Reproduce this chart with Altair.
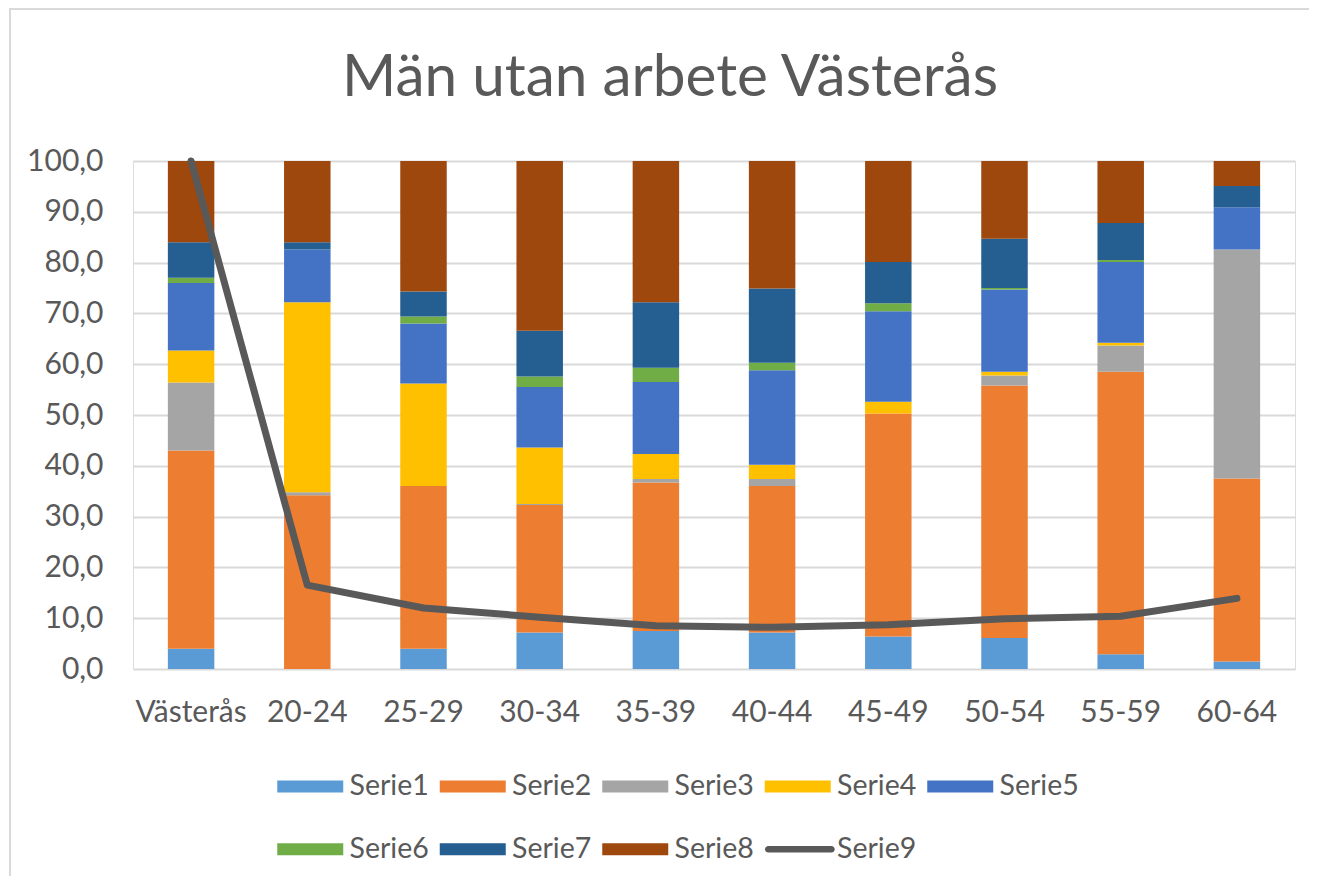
import altair as alt
import pandas as pd

categories = ["Västerås", "20-24", "25-29", "30-34", "35-39", "40-44", "45-49", "50-54", "55-59", "60-64"]
serie1 = [4.0, 0.0, 4.0, 7.2, 7.5, 7.2, 6.4, 6.1, 2.9, 1.5]
serie2 = [39.0, 34.2, 32.0, 25.1, 29.2, 28.8, 43.9, 49.7, 55.6, 36.0]
serie3 = [13.4, 0.6, 0.0, 0.2, 0.7, 1.4, 0.0, 2.0, 5.2, 45.1]
serie4 = [6.3, 37.4, 20.2, 11.1, 4.9, 2.8, 2.3, 0.7, 0.5, 0.0]
serie5 = [13.3, 10.4, 11.8, 11.9, 14.2, 18.6, 17.8, 16.2, 15.9, 8.3]
serie6 = [1.0, 0.0, 1.4, 2.1, 2.8, 1.5, 1.6, 0.3, 0.4, 0.0]
serie7 = [7.0, 1.4, 4.9, 9.0, 12.9, 14.6, 8.1, 9.7, 7.3, 4.2]
serie8 = [16.0, 16.0, 25.7, 33.4, 27.8, 25.1, 19.9, 15.3, 12.2, 4.9]
serie9 = [100.0, 16.5, 12.0, 10.2, 8.5, 8.2, 8.7, 9.9, 10.4, 13.9]

series_names = ["Serie1", "Serie2", "Serie3", "Serie4", "Serie5", "Serie6", "Serie7", "Serie8", "Serie9"]
colors = ["#5B9BD5", "#ED7D31", "#A5A5A5", "#FFC000", "#4472C4", "#70AD47", "#255E91", "#9E480E", "#595959"]

bar_series = [serie1, serie2, serie3, serie4, serie5, serie6, serie7, serie8]
rows = []
for i, vals in enumerate(bar_series):
    for j, cat in enumerate(categories):
        rows.append({"kat": cat, "serie": series_names[i], "ordning": i, "varde": vals[j]})
bars_df = pd.DataFrame(rows)
line_df = pd.DataFrame({"kat": categories, "serie": "Serie9", "varde": serie9})

FONT = "Lato"
TXT = "#595959"

color_scale = alt.Scale(domain=series_names, range=colors)

# legend symbol shapes (unit = 12 px with symbolSize 576)
rect_path = "M-1,-0.5H4.5V0.5H-1Z"
line_path = "M-0.7,-0.28H4.55A0.28,0.28 0 0 1 4.55,0.28H-0.7A0.28,0.28 0 0 1 -0.7,-0.28Z"

legend = alt.Legend(
    title=None,
    orient="none",
    legendX=142,
    legendY=611,
    direction="horizontal",
    columns=5,
    symbolType={"expr": "datum.value === 'Serie9' ? '" + line_path + "' : '" + rect_path + "'"},
    symbolSize=576,
    symbolStrokeWidth=0,
    labelFont=FONT,
    labelFontSize=28.5,
    labelColor=TXT,
    labelOffset=46,
    columnPadding=8.5,
    rowPadding=34,
)

x_enc = alt.X(
    "kat:N",
    sort=categories,
    scale=alt.Scale(paddingInner=0.6, paddingOuter=0.3),
    axis=alt.Axis(
        title=None, labelAngle=0, ticks=False, domain=False, grid=False,
        labelFont=FONT, labelFontSize=30, labelColor=TXT, labelPadding=28,
    ),
)

bars = alt.Chart(bars_df).mark_bar().encode(
    x=x_enc,
    y=alt.Y(
        "varde:Q",
        stack="zero",
        scale=alt.Scale(domain=[0, 100], nice=False),
        axis=alt.Axis(
            title=None, values=list(range(0, 101, 10)), ticks=False, tickSize=0, domain=False,
            labelExpr="replace(format(datum.value, '.1f'), '.', ',')",
            labelFont=FONT, labelFontSize=30, labelColor=TXT, labelPadding=30,
            grid=True, gridColor="#D9D9D9", gridWidth=2,
        ),
    ),
    color=alt.Color("serie:N", scale=color_scale, legend=legend),
    order=alt.Order("ordning:Q", sort="ascending"),
)

line = alt.Chart(line_df).mark_line(strokeWidth=7, strokeCap="round", strokeJoin="round").encode(
    x=alt.X("kat:N", sort=categories),
    y=alt.Y("varde:Q"),
    color=alt.Color("serie:N", scale=color_scale, legend=legend),
)

frame = alt.Chart(alt.Data(values=[{}])).mark_rect(
    fill="transparent", stroke="#D9D9D9", strokeWidth=2
).encode(
    x=alt.value(-123), x2=alt.value(1200), y=alt.value(-152), y2=alt.value(760)
)

chart = alt.layer(frame, bars, line).properties(
    width=1162,
    height=508,
    title=alt.TitleParams(
        "Män utan arbete Västerås", font=FONT, fontSize=58.5, fontWeight="normal", color=TXT,
        anchor="middle", frame="group", baseline="alphabetic", offset=-146, dx=-44,
    ),
    padding={"left": 125, "top": 153, "right": 14, "bottom": 207},
    autosize=alt.AutoSizeParams(type="none"),
).configure_view(stroke=None).configure(background="white")

chart.save("out.html", embed_options={"renderer": "svg", "actions": False})
